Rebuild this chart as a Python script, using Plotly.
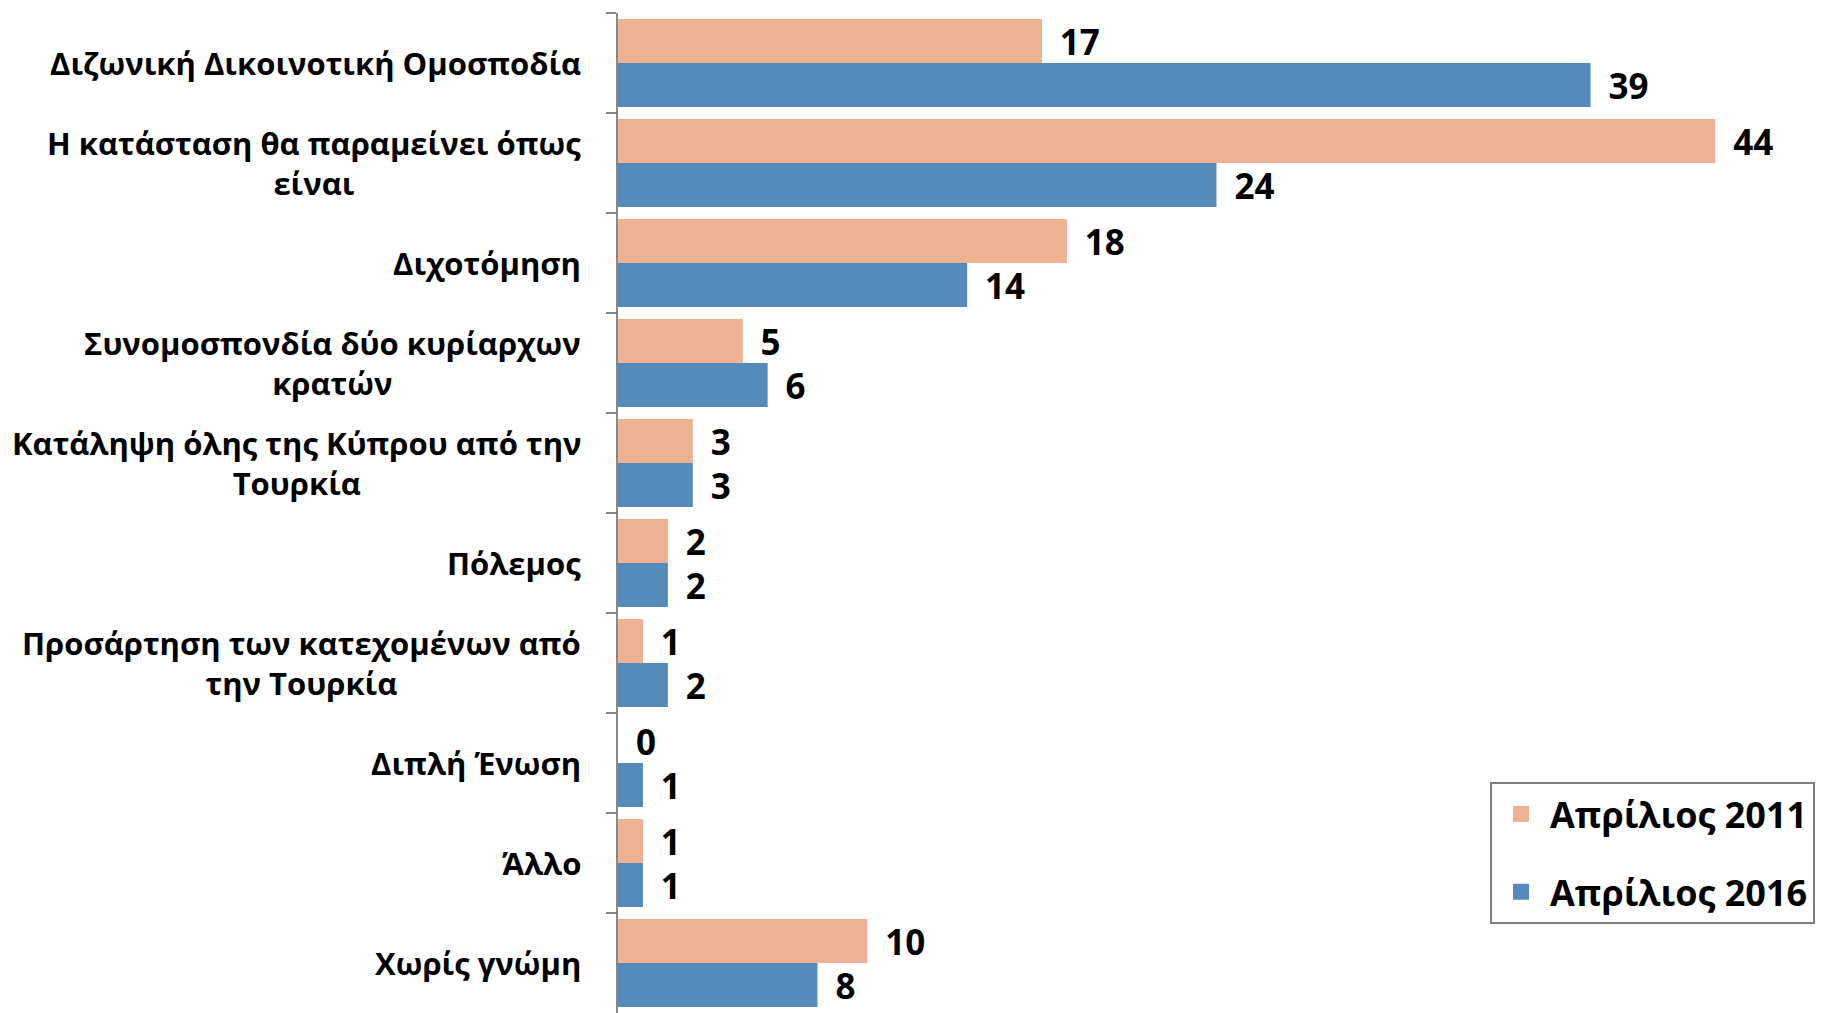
import plotly.graph_objects as go

categories = [
    "Διζωνική Δικοινοτική Ομοσποδία",
    "Η κατάσταση θα παραμείνει όπως<br>είναι",
    "Διχοτόμηση",
    "Συνομοσπονδία δύο κυρίαρχων<br>κρατών",
    "Κατάληψη όλης της Κύπρου από την<br>Τουρκία",
    "Πόλεμος",
    "Προσάρτηση των κατεχομένων από<br>την Τουρκία",
    "Διπλή Ένωση",
    "Άλλο",
    "Χωρίς γνώμη",
]
series_names = ["Απρίλιος 2011", "Απρίλιος 2016"]
values_2011 = [17, 44, 18, 5, 3, 2, 1, 0, 1, 10]
values_2016 = [39, 24, 14, 6, 3, 2, 2, 1, 1, 8]
colors = ["#ECB292", "#548BBA"]

FONT = "Open Sans"

fig = go.Figure()
for name, vals, col, grp in zip(series_names, [values_2011, values_2016], colors, ["a", "b"]):
    fig.add_trace(go.Bar(
        y=categories, x=vals, orientation="h", name=name,
        marker=dict(color=col, line=dict(width=0)),
        text=vals, texttemplate="\u00a0\u2009%{x}", textposition="outside",
        textfont=dict(family=FONT, size=35, color="black", weight="bold"),
        constraintext="none", cliponaxis=False,
        showlegend=False,
    ))
    # legend entry with a larger square swatch
    fig.add_trace(go.Scatter(
        x=[None], y=[None], mode="markers", name=name,
        marker=dict(symbol="square", size=24, color=col),
        legendgroup=grp, showlegend=True,
    ))

for c in categories:
    fig.add_annotation(
        x=0, xref="paper", y=c, yref="y", text=c, showarrow=False,
        xanchor="right", yanchor="middle", xshift=-35, align="center",
        font=dict(family=FONT, size=31, color="black", weight="bold"),
    )

fig.update_layout(
    width=1819, height=1005,
    margin=dict(l=610, r=12, t=5, b=0),
    paper_bgcolor="white", plot_bgcolor="white",
    barmode="group", bargap=0.12, bargroupgap=0,
    showlegend=True,
    legend=dict(
        x=0.7285, xanchor="left", y=0.231, yanchor="top",
        bordercolor="#7f7f7f", borderwidth=2, bgcolor="white",
        font=dict(family=FONT, size=36, color="black", weight="bold"),
        traceorder="grouped", tracegroupgap=28, itemwidth=48,
        itemsizing="trace",
    ),
)
fig.update_xaxes(range=[0, 48], visible=False, showgrid=False, zeroline=False)
fig.update_yaxes(
    type="category", autorange="reversed",
    showticklabels=False, showgrid=False, zeroline=False,
    showline=True, linecolor="#888888", linewidth=2,
    ticks="outside", tickson="boundaries", ticklen=10, tickcolor="#888888", tickwidth=2,
)

fig.write_html("out.html")
